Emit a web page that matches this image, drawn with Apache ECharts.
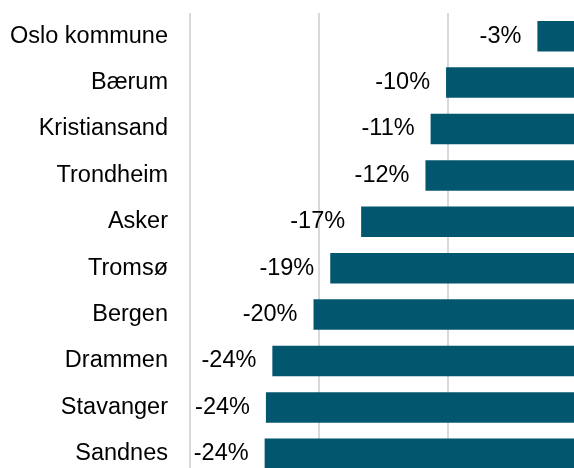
<!DOCTYPE html>
<html>
<head>
<meta charset="utf-8">
<script src="https://cdn.jsdelivr.net/npm/echarts@6/dist/echarts.min.js"></script>
<style>
html, body { margin: 0; padding: 0; background: #fff; }
#chart { width: 574px; height: 468px; }
</style>
</head>
<body>
<div id="chart"></div>
<script>
var kommuner = ["Oslo kommune", "Bærum", "Kristiansand", "Trondheim", "Asker", "Tromsø", "Bergen", "Drammen", "Stavanger", "Sandnes"];
var endring = [-3.0, -10.1, -11.3, -11.7, -16.7, -19.1, -20.4, -23.6, -24.1, -24.2];
var xTicks = [-30, -20, -10, 0];

var chart = echarts.init(document.getElementById("chart"));
var option = {
	animation: false,
	textStyle: { fontFamily: "Liberation Sans, Arial, sans-serif" },
	grid: { left: 190, width: 386, top: 13, height: 464, outerBoundsMode: "none" },
	xAxis: {
		type: "value",
		min: xTicks[0],
		max: xTicks[xTicks.length - 1],
		interval: 10,
		axisLabel: { show: false },
		axisLine: { show: false },
		axisTick: { show: false },
		splitLine: { show: true, lineStyle: { color: "#d9d9d9", width: 2 } }
	},
	yAxis: {
		type: "category",
		data: kommuner,
		inverse: true,
		axisLine: { show: false },
		axisTick: { show: false },
		axisLabel: { margin: 22, fontSize: 23.5, color: "#000" }
	},
	series: [{
		type: "bar",
		data: endring,
		barWidth: 30.5,
		itemStyle: { color: "#02576f" },
		label: {
			show: true,
			position: "left",
			distance: 16,
			fontSize: 23.5,
			color: "#000",
			formatter: function(p) { return Math.round(p.value) + "%"; }
		}
	}]
};
chart.setOption(option);
</script>
</body>
</html>
